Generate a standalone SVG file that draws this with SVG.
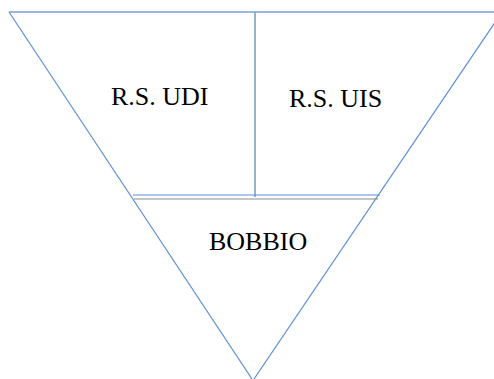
<svg xmlns="http://www.w3.org/2000/svg" width="494" height="379" viewBox="0 0 494 379">
<style>
.edge{stroke:#5b8fd6;stroke-width:1.2;fill:none}
.top{stroke:#9bb7dc;stroke-width:2;fill:none}
.div{stroke:#7f9ec6;stroke-width:1.6;fill:none}
.gray{stroke:#8c8c8c;stroke-width:1.2;fill:none}
.lbl{font-family:"Liberation Serif","Times New Roman",serif;font-size:26px;fill:#000}
</style>
<rect width="494" height="379" fill="#fff"/>
<g id="connectors">
<line class="top" x1="9" y1="12" x2="494" y2="12"/>
<line class="edge" x1="9" y1="12" x2="252" y2="379"/>
<line class="edge" x1="502" y1="12" x2="254" y2="379"/>
<line class="div" x1="255" y1="12" x2="255" y2="197"/>
<line class="edge" x1="133" y1="195" x2="380" y2="195"/>
<line class="gray" x1="134" y1="199" x2="378" y2="199"/>
</g>
<g id="node-udi"><text class="lbl" x="111" y="105">R.S. UDI</text></g>
<g id="node-uis"><text class="lbl" x="289" y="107">R.S. UIS</text></g>
<g id="node-bobbio"><text class="lbl" x="209" y="250">BOBBIO</text></g>
</svg>
